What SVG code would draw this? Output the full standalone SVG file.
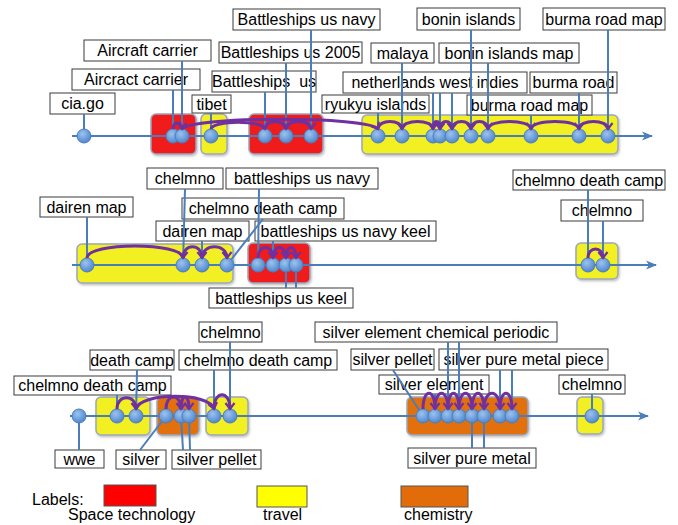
<svg xmlns="http://www.w3.org/2000/svg" width="678" height="525" viewBox="0 0 678 525">
<defs>
<radialGradient id="ng" cx="40%" cy="35%" r="65%">
<stop offset="0" stop-color="#9cc3ee"/>
<stop offset="1" stop-color="#4f87cf"/>
</radialGradient>
<marker id="ax" markerUnits="userSpaceOnUse" markerWidth="12" markerHeight="10" viewBox="0 0 12 10" refX="10" refY="5" orient="auto">
<path d="M0,0.5 L11,5 L0,9.5 L3,5 z" fill="#4A7EBB"/>
</marker>
<marker id="pa" markerUnits="userSpaceOnUse" markerWidth="10" markerHeight="12" viewBox="-8 -6 10 12" refX="0" refY="0" orient="auto">
<path d="M-6,-4.5 L0,0 L-6,4.5" fill="none" stroke="#7030A0" stroke-width="2.2"/>
</marker>
<filter id="sh" x="-20%" y="-20%" width="140%" height="140%">
<feDropShadow dx="1" dy="1.5" stdDeviation="1" flood-color="#000" flood-opacity="0.25"/>
</filter>
</defs>
<style>
.lbl rect{fill:#fff;stroke:#3a3a3a;stroke-width:1}
text{font-family:"Liberation Sans",Arial,sans-serif;font-size:16px;fill:#000;white-space:pre}
.lbl text{text-anchor:middle}
.conn line{stroke:#4A7EBB;stroke-width:2}
.axis{stroke:#4A7EBB;stroke-width:2;marker-end:url(#ax)}
.pt circle{fill:url(#ng);stroke:#4A7EBB;stroke-width:1}
.arc{fill:none;stroke:#7030A0;stroke-width:3;marker-end:url(#pa)}
.red{fill:#F01E1E;stroke:#9aa7bd;stroke-width:1.5;filter:url(#sh)}
.yel{fill:#F2F020;stroke:#9aa7bd;stroke-width:1.5;filter:url(#sh)}
.org{fill:#E2700F;stroke:#9aa7bd;stroke-width:1.5;filter:url(#sh)}
</style>
<rect width="678" height="525" fill="#fff"/>

<g id="clusters">
<rect class="red" x="151" y="114" width="45" height="40" rx="5"/>
<rect class="yel" x="201" y="114" width="26" height="40" rx="5"/>
<rect class="red" x="249" y="114" width="74" height="40" rx="5"/>
<rect class="yel" x="362" y="115" width="256" height="39" rx="5"/>
<rect class="yel" x="77" y="244" width="156" height="39" rx="5"/>
<rect class="red" x="248" y="243" width="62" height="40" rx="5"/>
<rect class="yel" x="576" y="243" width="42" height="36" rx="5"/>
<rect class="yel" x="96" y="397" width="54" height="38" rx="5"/>
<rect class="org" x="157" y="397" width="42" height="38" rx="5"/>
<rect class="yel" x="206" y="397" width="42" height="38" rx="5"/>
<rect class="org" x="407" y="397" width="121" height="38" rx="5"/>
<rect class="yel" x="577" y="397" width="26" height="37" rx="5"/>
</g>

<g id="axes">
<line class="axis" x1="72" y1="136" x2="652" y2="136"/>
<line class="axis" x1="72" y1="265" x2="656" y2="265"/>
<line class="axis" x1="70" y1="416" x2="648" y2="416"/>
</g>

<g id="labels">
<g id="l1" class="lbl"><rect x="50" y="93" width="65" height="21"/><text x="82.5" y="109">cia.go</text></g>
<g id="l2" class="lbl"><rect x="72" y="69" width="128" height="21"/><text x="136" y="85">Aircract carrier</text></g>
<g id="l3" class="lbl"><rect x="84" y="40" width="127" height="21"/><text x="147.5" y="56">Aircraft carrier</text></g>
<g id="l4" class="lbl"><rect x="192" y="95" width="39" height="18"/><text x="211.5" y="109.5">tibet</text></g>
<g id="l5" class="lbl"><rect x="212" y="71" width="104" height="21"/><text x="264" y="87">Battleships  us</text></g>
<g id="l6" class="lbl"><rect x="219" y="42" width="143" height="21"/><text x="290.5" y="58">Battleships us 2005</text></g>
<g id="l7" class="lbl"><rect x="233" y="9" width="147" height="21"/><text x="306.5" y="25">Battleships us navy</text></g>
<g id="l8" class="lbl"><rect x="322" y="95" width="107" height="18"/><text x="375.5" y="109.5">ryukyu islands</text></g>
<g id="l9" class="lbl"><rect x="371" y="43" width="63" height="20"/><text x="402.5" y="58.5">malaya</text></g>
<g id="l10" class="lbl"><rect x="343" y="72" width="184" height="21"/><text x="435" y="88">netherlands west indies</text></g>
<g id="l11" class="lbl"><rect x="417" y="8" width="103" height="22"/><text x="468.5" y="24.5">bonin islands</text></g>
<g id="l12" class="lbl"><rect x="439" y="43" width="140" height="20"/><text x="509" y="58.5">bonin islands map</text></g>
<g id="l13" class="lbl"><rect x="543" y="8" width="122" height="22"/><text x="604" y="24.5">burma road map</text></g>
<g id="l14" class="lbl"><rect x="530" y="72" width="87" height="21"/><text x="573.5" y="88">burma road</text></g>
<g id="l15" class="lbl"><rect x="467" y="95" width="125" height="20"/><text x="529.5" y="110.5">burma road map</text></g>

<g id="l16" class="lbl"><rect x="40" y="197" width="93" height="20"/><text x="86.5" y="212.5">dairen map</text></g>
<g id="l17" class="lbl"><rect x="147" y="168" width="76" height="21"/><text x="185" y="184">chelmno</text></g>
<g id="l18" class="lbl"><rect x="226" y="168" width="152" height="21"/><text x="302" y="184">battleships us navy</text></g>
<g id="l19" class="lbl"><rect x="182" y="198" width="162" height="21"/><text x="263" y="214">chelmno death camp</text></g>
<g id="l20" class="lbl"><rect x="156" y="221" width="93" height="20"/><text x="202.5" y="236.5">dairen map</text></g>
<g id="l21" class="lbl"><rect x="255" y="221" width="181" height="20"/><text x="345.5" y="236.5">battleships us navy keel</text></g>
<g id="l22" class="lbl"><rect x="209" y="288" width="144" height="20"/><text x="281" y="303.5">battleships us keel</text></g>
<g id="l23" class="lbl"><rect x="513" y="170" width="152" height="20"/><text x="589" y="185.5">chelmno death camp</text></g>
<g id="l24" class="lbl"><rect x="561" y="200" width="82" height="21"/><text x="602" y="216">chelmno</text></g>

<g id="l25" class="lbl"><rect x="55" y="450" width="49" height="18"/><text x="79.5" y="464.5">wwe</text></g>
<g id="l26" class="lbl"><rect x="14" y="376" width="157" height="19"/><text x="92.5" y="391">chelmno death camp</text></g>
<g id="l27" class="lbl"><rect x="90" y="350" width="84" height="20"/><text x="132" y="365.5">death camp</text></g>
<g id="l28" class="lbl"><rect x="179" y="350" width="158" height="20"/><text x="258" y="365.5">chelmno death camp</text></g>
<g id="l29" class="lbl"><rect x="199" y="322" width="63" height="20"/><text x="230.5" y="337.5">chelmno</text></g>
<g id="l30" class="lbl"><rect x="116" y="450" width="50" height="19"/><text x="141" y="465">silver</text></g>
<g id="l31" class="lbl"><rect x="172" y="450" width="89" height="19"/><text x="216.5" y="465">silver pellet</text></g>
<g id="l32" class="lbl"><rect x="315" y="322" width="242" height="20"/><text x="436" y="337.5">silver element chemical periodic</text></g>
<g id="l33" class="lbl"><rect x="351" y="349" width="83" height="21"/><text x="392.5" y="365">silver pellet</text></g>
<g id="l34" class="lbl"><rect x="439" y="349" width="169" height="21"/><text x="523.5" y="365">silver pure metal piece</text></g>
<g id="l35" class="lbl"><rect x="379" y="375" width="110" height="19"/><text x="434" y="390">silver element</text></g>
<g id="l36" class="lbl"><rect x="408" y="448" width="128" height="20"/><text x="472" y="463.5">silver pure metal</text></g>
<g id="l37" class="lbl"><rect x="559" y="375" width="66" height="19"/><text x="592" y="390">chelmno</text></g>
</g>

<g id="connectors" class="conn">
<line x1="84" y1="114" x2="84" y2="136"/>
<line x1="173" y1="90" x2="173" y2="136"/>
<line x1="182" y1="61" x2="182" y2="136"/>
<line x1="211" y1="113" x2="211" y2="136"/>
<line x1="265" y1="92" x2="265" y2="136"/>
<line x1="286" y1="63" x2="286" y2="136"/>
<line x1="311" y1="30" x2="311" y2="136"/>
<line x1="378" y1="113" x2="378" y2="136"/>
<line x1="402" y1="63" x2="402" y2="136"/>
<line x1="433" y1="93" x2="433" y2="136"/>
<line x1="440" y1="93" x2="440" y2="136"/>
<line x1="452" y1="93" x2="452" y2="136"/>
<line x1="471" y1="30" x2="471" y2="136"/>
<line x1="488" y1="63" x2="488" y2="136"/>
<line x1="531" y1="115" x2="531" y2="136"/>
<line x1="579" y1="93" x2="579" y2="136"/>
<line x1="608" y1="30" x2="608" y2="136"/>

<line x1="87" y1="217" x2="87" y2="265"/>
<line x1="185" y1="189" x2="183" y2="265"/>
<line x1="259" y1="189" x2="258" y2="265"/>
<line x1="263" y1="219" x2="227" y2="265"/>
<line x1="202" y1="241" x2="202" y2="265"/>
<line x1="273" y1="241" x2="273" y2="265"/>
<line x1="286" y1="288" x2="286" y2="265"/>
<line x1="296" y1="288" x2="296" y2="265"/>
<line x1="588" y1="190" x2="588" y2="265"/>
<line x1="603" y1="221" x2="603" y2="265"/>

<line x1="79" y1="450" x2="79" y2="416"/>
<line x1="117" y1="395" x2="117" y2="416"/>
<line x1="137" y1="370" x2="136" y2="416"/>
<line x1="214" y1="370" x2="214" y2="416"/>
<line x1="230" y1="342" x2="230" y2="416"/>
<line x1="140" y1="450" x2="166" y2="416"/>
<line x1="183" y1="450" x2="181" y2="416"/>
<line x1="190" y1="450" x2="189" y2="416"/>
<line x1="448" y1="342" x2="448" y2="416"/>
<line x1="459" y1="342" x2="459" y2="416"/>
<line x1="393" y1="370" x2="423" y2="416"/>
<line x1="500" y1="370" x2="500" y2="416"/>
<line x1="512" y1="370" x2="512" y2="416"/>
<line x1="435" y1="394" x2="435" y2="416"/>
<line x1="472" y1="448" x2="472" y2="416"/>
<line x1="484" y1="448" x2="484" y2="416"/>
<line x1="592" y1="394" x2="592" y2="416"/>
</g>

<g id="points" class="pt">
<g id="p-top">
<circle cx="84" cy="136" r="7"/><circle cx="173" cy="136" r="7"/><circle cx="182" cy="136" r="7"/><circle cx="211" cy="136" r="7"/>
<circle cx="265" cy="136" r="7"/><circle cx="286" cy="136" r="7"/><circle cx="311" cy="136" r="7"/><circle cx="378" cy="136" r="7"/>
<circle cx="402" cy="136" r="7"/><circle cx="433" cy="136" r="7"/><circle cx="440" cy="136" r="7"/><circle cx="452" cy="136" r="7"/>
<circle cx="471" cy="136" r="7"/><circle cx="488" cy="136" r="7"/><circle cx="531" cy="136" r="7"/><circle cx="579" cy="136" r="7"/>
<circle cx="608" cy="136" r="7"/>
</g>
<g id="p-mid">
<circle cx="87" cy="265" r="7"/><circle cx="183" cy="265" r="7"/><circle cx="202" cy="265" r="7"/><circle cx="227" cy="265" r="7"/>
<circle cx="258" cy="265" r="7"/><circle cx="273" cy="265" r="7"/><circle cx="286" cy="265" r="7"/><circle cx="296" cy="265" r="7"/>
<circle cx="588" cy="265" r="7"/><circle cx="603" cy="265" r="7"/>
</g>
<g id="p-bot">
<circle cx="79" cy="416" r="7"/><circle cx="117" cy="416" r="7"/><circle cx="136" cy="416" r="7"/><circle cx="166" cy="416" r="7"/>
<circle cx="181" cy="416" r="7"/><circle cx="189" cy="416" r="7"/><circle cx="214" cy="416" r="7"/><circle cx="230" cy="416" r="7"/>
<circle cx="423" cy="416" r="7"/><circle cx="435" cy="416" r="7"/><circle cx="448" cy="416" r="7"/><circle cx="459" cy="416" r="7"/>
<circle cx="472" cy="416" r="7"/><circle cx="484" cy="416" r="7"/><circle cx="500" cy="416" r="7"/><circle cx="512" cy="416" r="7"/>
<circle cx="592" cy="416" r="7"/>
</g>
</g>

<g id="transitions">
<path class="arc" d="M173,129 C173,121 182,121 182,129"/>
<path class="arc" d="M182,129 C190,116 370,116 378,129"/>
<path class="arc" d="M211,129 C213,120 263,120 265,129"/>
<path class="arc" d="M265,129 C265,119 286,119 286,129"/>
<path class="arc" d="M286,129 C286,119 311,119 311,129"/>
<path class="arc" d="M378,129 C378,119 402,119 402,129"/>
<path class="arc" d="M402,129 C402,119 433,119 433,129"/>
<path class="arc" d="M433,129 C433,119 440,119 440,129"/>
<path class="arc" d="M440,129 C440,119 452,119 452,129"/>
<path class="arc" d="M452,129 C452,119 471,119 471,129"/>
<path class="arc" d="M471,129 C471,119 488,119 488,129"/>
<path class="arc" d="M488,129 C488,119 531,119 531,129"/>
<path class="arc" d="M531,129 C531,119 579,119 579,129"/>
<path class="arc" d="M579,129 C579,119 608,119 608,129"/>

<path class="arc" d="M87,258 C87,242 183,242 183,258"/>
<path class="arc" d="M183,258 C183,243 202,243 202,258"/>
<path class="arc" d="M202,258 C202,243 227,243 227,258"/>
<path class="arc" d="M258,258 C258,244 273,244 273,258"/>
<path class="arc" d="M273,258 C273,244 286,244 286,258"/>
<path class="arc" d="M286,258 C286,244 296,244 296,258"/>
<path class="arc" d="M588,258 C588,246 603,246 603,258"/>

<path class="arc" d="M117,409 C117,394 136,394 136,409"/>
<path class="arc" d="M136,409 C140,392 210,392 214,409"/>
<path class="arc" d="M166,409 C166,393 181,393 181,409"/>
<path class="arc" d="M181,409 C181,393 189,393 189,409"/>
<path class="arc" d="M214,409 C214,390 230,390 230,409"/>
<path class="arc" d="M423,409 C423,388 435,388 435,409"/>
<path class="arc" d="M435,409 C435,388 448,388 448,409"/>
<path class="arc" d="M448,409 C448,388 459,388 459,409"/>
<path class="arc" d="M459,409 C459,388 472,388 472,409"/>
<path class="arc" d="M472,409 C472,388 484,388 484,409"/>
<path class="arc" d="M484,409 C484,388 500,388 500,409"/>
<path class="arc" d="M500,409 C500,388 512,388 512,409"/>
</g>

<g id="legend">
<text x="32" y="505">Labels:</text>
<rect x="104" y="485" width="52" height="21" fill="#FF0000" stroke="#555" stroke-width="1"/>
<text x="68" y="520">Space technology</text>
<rect x="257" y="486" width="50" height="21" fill="#FFFF00" stroke="#555" stroke-width="1"/>
<text x="263" y="520">travel</text>
<rect x="401" y="486" width="67" height="21" fill="#E36C0A" stroke="#555" stroke-width="1"/>
<text x="404" y="520">chemistry</text>
</g>
</svg>
